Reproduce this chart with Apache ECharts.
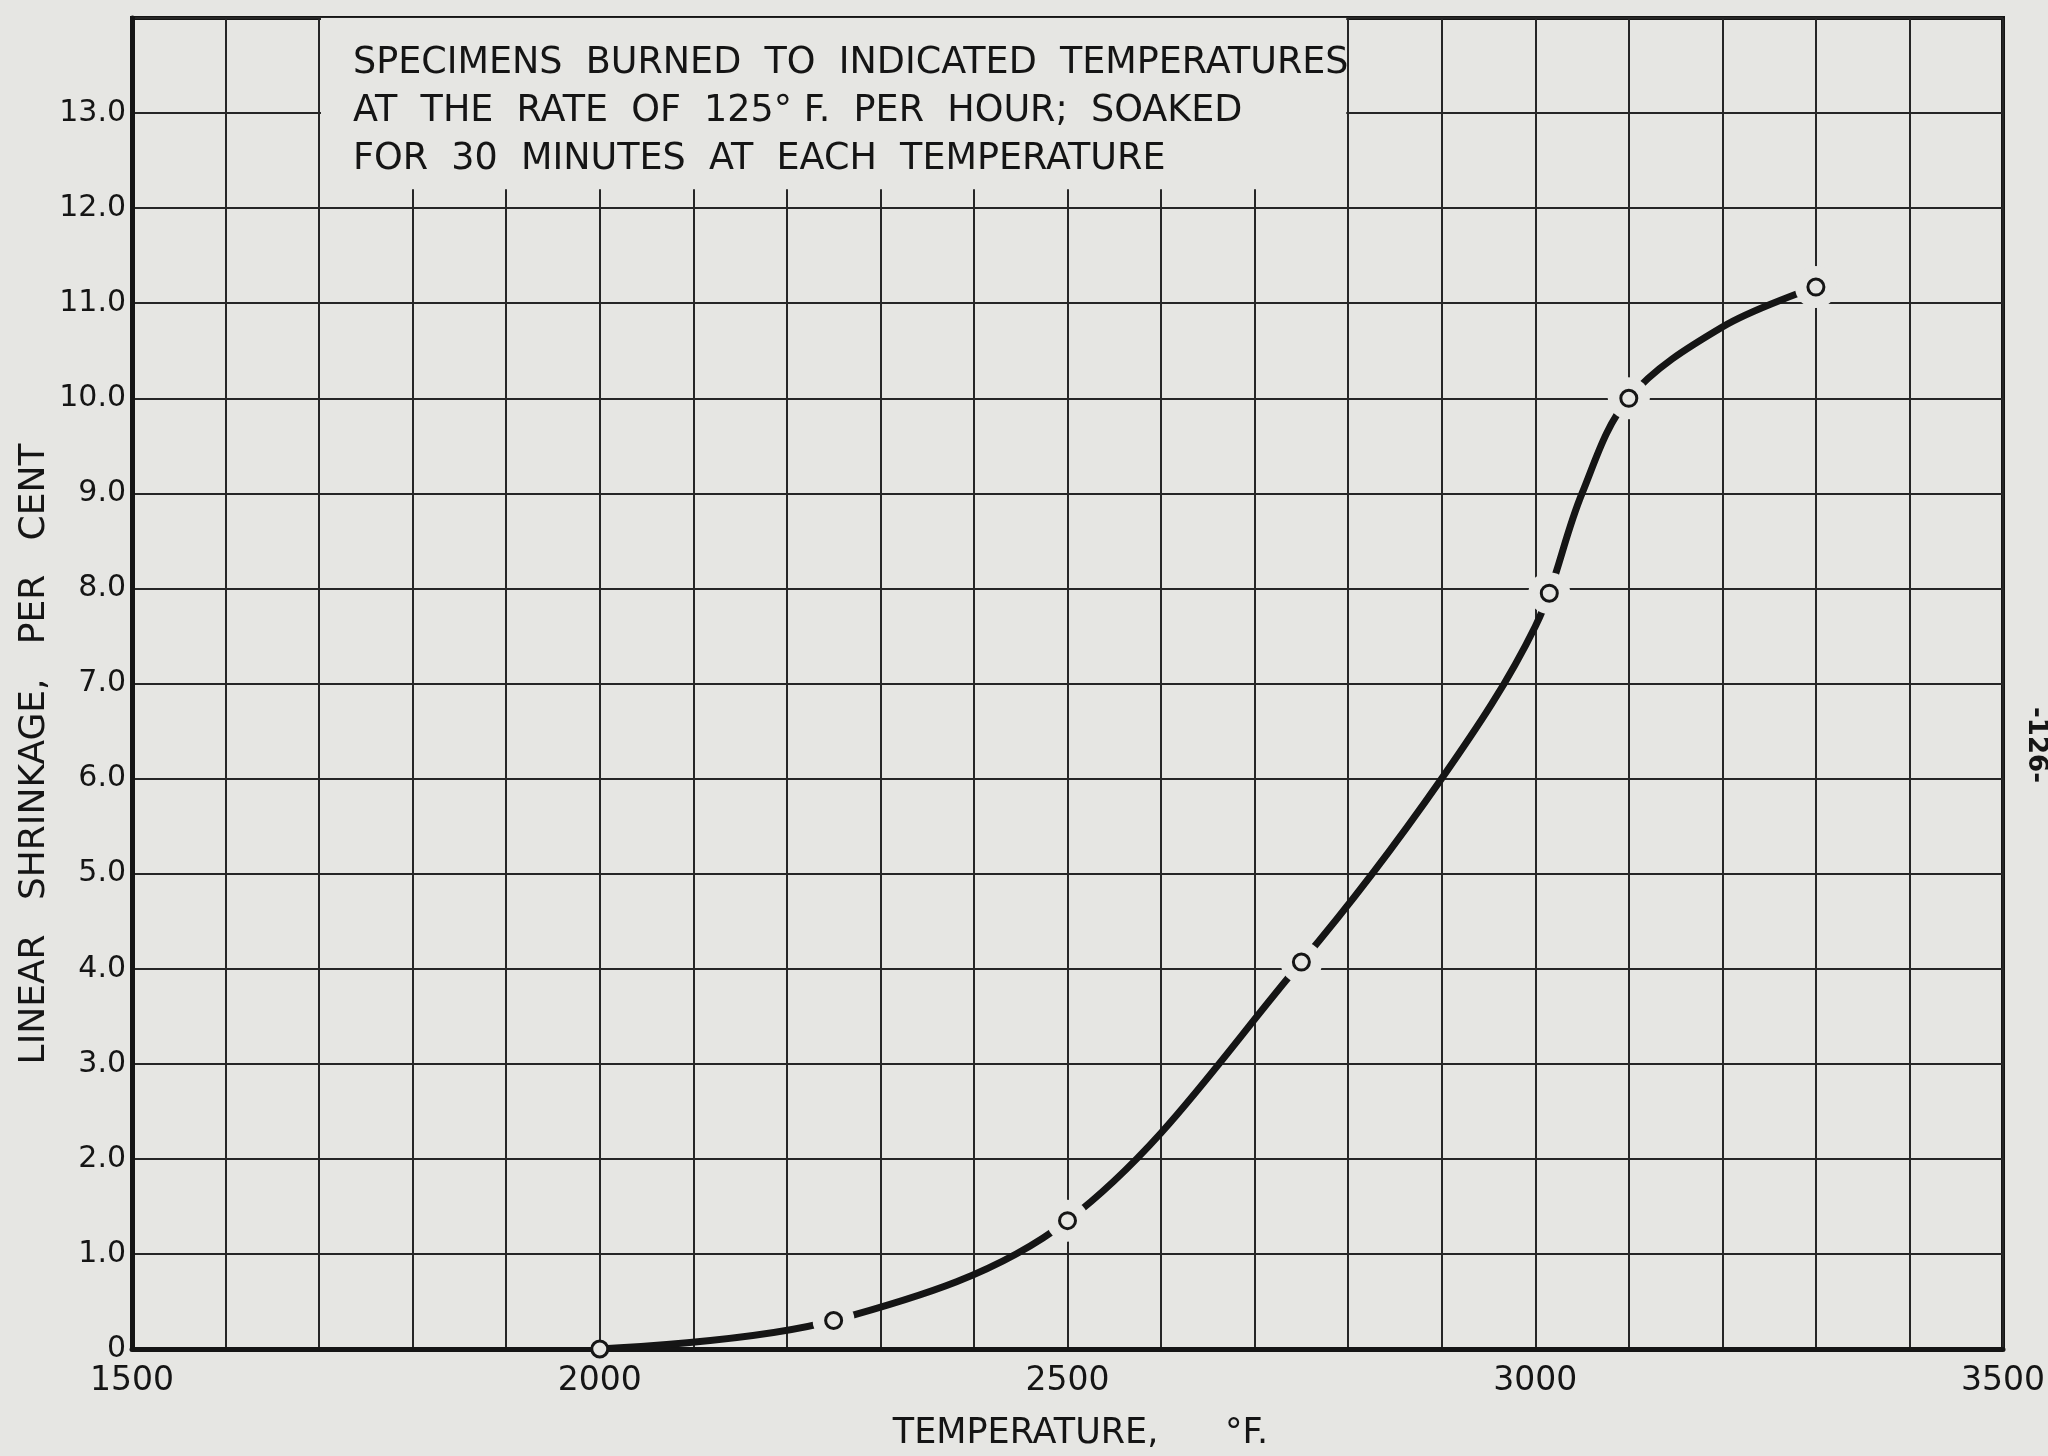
<!DOCTYPE html>
<html>
<head>
<meta charset="utf-8">
<script src="https://cdn.jsdelivr.net/npm/echarts@6/dist/echarts.min.js"></script>
<style>
	html, body { margin: 0; padding: 0; background: #e6e6e3; }
	#chart { width: 2048px; height: 1456px; }
</style>
</head>
<body>
<div id="chart"></div>
<script>
// 试验点（圆圈）
const temps = [2000, 2250, 2500, 2750, 3015, 3100, 3300];       // °F
const shrinkage = [0, 0.3, 1.35, 4.07, 7.95, 10.0, 11.17];      // per cent
// 手绘曲线上读出的点
const curveTemps = [2000, 2250, 2500, 2750, 2900, 3000, 3050, 3100, 3200, 3300];
const curveShrinkage = [0, 0.3, 1.35, 4.07, 6.0, 7.6, 9.0, 10.0, 10.75, 11.17];
const labelledTemps = [1500, 2000, 2500, 3000, 3500];
const noteLines = [
	'SPECIMENS  BURNED  TO  INDICATED  TEMPERATURES',
	'AT  THE  RATE  OF  125° F.  PER  HOUR;  SOAKED',
	'FOR  30  MINUTES  AT  EACH  TEMPERATURE'
];
const noteBox = { x: [1702, 2798], y: [12.2, 14] };

(function () {
	const paper = '#e6e6e3';
	const ink = '#151515';
	const font = 'DejaVu Sans';
	let myChart = echarts.init(document.getElementById('chart'));
	const points = temps.map((t, i) => [t, shrinkage[i]]);
	const curve = curveTemps.map((t, i) => [t, curveShrinkage[i]]);

	const option = {
		backgroundColor: paper,
		animation: false,
		grid: {
			left: 132,
			right: 40,
			top: 18,
			bottom: 104,
			show: true,
			borderColor: ink,
			borderWidth: 4,
			backgroundColor: paper
		},
		xAxis: {
			type: 'value',
			min: 1500,
			max: 3500,
			interval: 100,
			name: 'TEMPERATURE,      °F.',
			nameLocation: 'middle',
			nameGap: 67,
			nameTextStyle: { color: ink, fontFamily: font, fontSize: 35, padding: [0, 0, 0, 26] },
			axisLine: { show: true, lineStyle: { color: ink, width: 5 } },
			axisTick: { show: false },
			axisLabel: {
				color: ink,
				fontFamily: font,
				fontSize: 33,
				margin: 16,
				formatter: function (v) {
					return labelledTemps.indexOf(v) >= 0 ? String(v) : '';
				}
			},
			splitLine: { show: true, lineStyle: { color: '#262626', width: 2 } }
		},
		yAxis: {
			type: 'value',
			min: 0,
			max: 14,
			interval: 1,
			axisLine: { show: true, lineStyle: { color: ink, width: 5 } },
			axisTick: { show: false },
			axisLabel: {
				color: ink,
				fontFamily: font,
				fontSize: 30,
				margin: 6,
				formatter: function (v) {
					if (v === 0) return '0';
					if (v >= 14) return '';
					return v.toFixed(1);
				}
			},
			splitLine: { show: true, lineStyle: { color: '#262626', width: 2 } }
		},
		graphic: [
			{
				type: 'text',
				x: 35,
				y: 754,
				rotation: Math.PI / 2,
				style: {
					text: 'LINEAR   SHRINKAGE,   PER   CENT',
					fill: ink,
					font: '36px "DejaVu Sans"',
					textAlign: 'center',
					textVerticalAlign: 'middle'
				}
			},
			{
				type: 'text',
				x: 2036,
				y: 745,
				rotation: -Math.PI / 2,
				style: {
					text: '-126-',
					fill: ink,
					font: 'bold 26px "DejaVu Sans"',
					textAlign: 'center',
					textVerticalAlign: 'middle'
				}
			}
		],
		series: [
			{
				// 曲线
				name: 'curve',
				type: 'line',
				data: curve,
				smooth: 0.35,
				showSymbol: false,
				z: 2,
				lineStyle: { color: ink, width: 7 },
				markArea: {
					silent: true,
					itemStyle: { color: paper },
					label: {
						show: true,
						position: 'insideTopLeft',
						distance: 0,
						offset: [32, 22],
						color: ink,
						fontFamily: font,
						fontSize: 36.5,
						lineHeight: 48,
						formatter: noteLines.join('\n')
					},
					data: [[
						{ coord: [noteBox.x[0], noteBox.y[0]] },
						{ coord: [noteBox.x[1], noteBox.y[1]] }
					]]
				}
			},
			{
				// 圆点周围的留白
				name: 'halo',
				type: 'scatter',
				data: points.slice(1),
				symbol: 'circle',
				symbolSize: 42,
				z: 3,
				silent: true,
				itemStyle: { color: paper, opacity: 1 }
			},
			{
				// 试验点
				name: 'points',
				type: 'scatter',
				data: points,
				symbol: 'circle',
				symbolSize: 16,
				z: 4,
				itemStyle: { color: paper, borderColor: ink, borderWidth: 3, opacity: 1 }
			}
		]
	};
	myChart.setOption(option);
	window.addEventListener('resize', function () {
		myChart.resize();
	});
})();
</script>
</body>
</html>
